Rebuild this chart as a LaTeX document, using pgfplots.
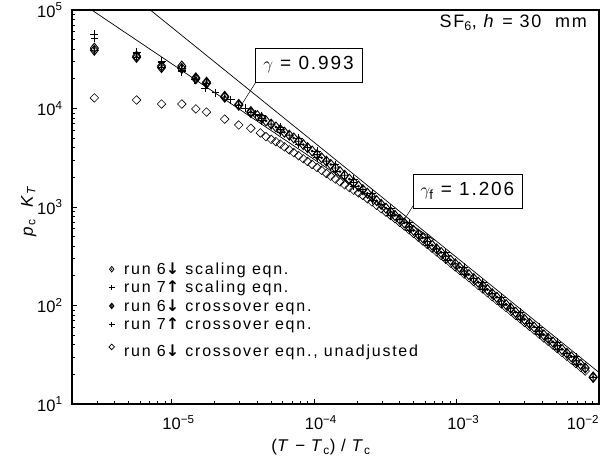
\documentclass[border=0pt]{standalone}
\usepackage{fontspec}
\setmainfont{Liberation Sans}
\newfontfamily\trk{Liberation Sans}[LetterSpace=11]
\newfontfamily\ttl{Liberation Sans}[LetterSpace=10]
\newfontfamily\lbl{Liberation Sans}[LetterSpace=6]
\newfontfamily\arrowfont{DejaVu Sans}
\newcommand\da{{\arrowfont\bfseries ↓}}
\newcommand\ua{{\arrowfont\bfseries ↑}}
\usepackage{pgfplots}
\pgfplotsset{compat=1.18}

\pgfdeclareplotmark{dplus}{%
 \pgfpathmoveto{\pgfqpoint{0pt}{\pgfplotmarksize}}%
 \pgfpathlineto{\pgfqpoint{.8\pgfplotmarksize}{0pt}}%
 \pgfpathlineto{\pgfqpoint{0pt}{-\pgfplotmarksize}}%
 \pgfpathlineto{\pgfqpoint{-.8\pgfplotmarksize}{0pt}}%
 \pgfpathclose
 \pgfpathmoveto{\pgfqpoint{0pt}{\pgfplotmarksize}}%
 \pgfpathlineto{\pgfqpoint{0pt}{-\pgfplotmarksize}}%
 \pgfpathmoveto{\pgfqpoint{-.8\pgfplotmarksize}{0pt}}%
 \pgfpathlineto{\pgfqpoint{.8\pgfplotmarksize}{0pt}}%
 \pgfusepathqstroke}
\pgfdeclareplotmark{ddot}{%
 \pgfpathmoveto{\pgfqpoint{0pt}{\pgfplotmarksize}}%
 \pgfpathlineto{\pgfqpoint{.8\pgfplotmarksize}{0pt}}%
 \pgfpathlineto{\pgfqpoint{0pt}{-\pgfplotmarksize}}%
 \pgfpathlineto{\pgfqpoint{-.8\pgfplotmarksize}{0pt}}%
 \pgfpathclose
 \pgfusepathqstroke
 \pgfpathcircle{\pgfpointorigin}{.3\pgfplotmarksize}%
 \pgfusepathqfill}
\pgfdeclareplotmark{dopen}{%
 \pgfpathmoveto{\pgfqpoint{0pt}{\pgfplotmarksize}}%
 \pgfpathlineto{\pgfqpoint{\pgfplotmarksize}{0pt}}%
 \pgfpathlineto{\pgfqpoint{0pt}{-\pgfplotmarksize}}%
 \pgfpathlineto{\pgfqpoint{-\pgfplotmarksize}{0pt}}%
 \pgfpathclose
 \pgfusepathqstroke}

\pgfplotstableread{
x y
2.87e-6 41000
5.68e-6 34000
8.5e-6 27000
1.18e-5 27000
1.48e-5 20500
1.76e-5 18500
2.36e-5 13300
2.96e-5 11000
3.6e-5 9300
4.0e-5 8470
4.6e-5 7480
5.4e-5 6490
6.2e-5 5740
7.2e-5 5020
8.4e-5 4300
9.7e-5 3700
1.13e-4 3155
1.31e-4 2700
1.52e-4 2290
1.77e-4 1920
2.05e-4 1630
2.37e-4 1380
2.75e-4 1160
3.2e-4 971
3.7e-4 820
4.3e-4 689
5.0e-4 578
5.8e-4 486
6.75e-4 408
7.8e-4 345
9.1e-4 288
1.05e-3 244
1.22e-3 206
1.42e-3 172
1.65e-3 145
1.92e-3 121
2.23e-3 102
2.6e-3 85.3
3.0e-3 72.3
3.5e-3 60.5
4.1e-3 50.3
4.75e-3 42.5
5.5e-3 35.8
6.4e-3 30.1
7.45e-3 25.2
9.1e-3 18.8
}\runsixscal

\pgfplotstableread{
x y
2.87e-6 57000
5.68e-6 37500
8.5e-6 30000
1.18e-5 23500
1.73e-5 16100
2.6e-5 12300
3.3e-5 10000
4.3e-5 8470
5.8e-5 6490
7.8e-5 5020
1.05e-4 3700
1.41e-4 2700
1.9e-4 1920
2.55e-4 1380
3.45e-4 971
4.65e-4 689
6.25e-4 486
8.4e-4 345
1.13e-3 244
1.53e-3 172
2.07e-3 121
2.8e-3 85.3
3.8e-3 60.5
5.1e-3 42.5
6.9e-3 30.1
}\runsevenscal

\pgfplotstableread{
x y
2.87e-6 39000
5.68e-6 33000
8.5e-6 26000
1.18e-5 25500
1.48e-5 20000
1.76e-5 18000
2.36e-5 13000
2.96e-5 10800
3.6e-5 9100
4.3e-5 7940
5.0e-5 6950
5.8e-5 6100
6.7e-5 5360
7.8e-5 4650
9.0e-5 4000
1.05e-4 3400
1.22e-4 2920
1.41e-4 2490
1.64e-4 2100
1.9e-4 1775
2.2e-4 1500
2.55e-4 1265
2.96e-4 1064
3.45e-4 889
4.0e-4 748
4.65e-4 628
5.4e-4 528
6.25e-4 446
7.25e-4 376
8.4e-4 317
9.8e-4 265
1.13e-3 224
1.32e-3 188
1.53e-3 158
1.78e-3 132
2.07e-3 111
2.4e-3 94
2.8e-3 78.3
3.25e-3 65.9
3.8e-3 55.0
4.4e-3 46.4
5.1e-3 39.1
5.95e-3 32.7
6.9e-3 27.5
8.0e-3 23.2
9.1e-3 18.6
}\runsixcross

\pgfplotstableread{
x y
2.87e-6 52000
5.68e-6 36000
8.5e-6 29000
1.18e-5 24500
1.45e-5 19500
2.04e-5 14400
2.96e-5 10700
3.9e-5 8800
4.3e-5 7480
5.8e-5 5740
7.8e-5 4300
1.05e-4 3155
1.41e-4 2290
1.9e-4 1630
2.55e-4 1160
3.45e-4 820
4.65e-4 578
6.25e-4 408
8.4e-4 288
1.13e-3 206
1.53e-3 145
2.07e-3 102
2.8e-3 72.3
3.8e-3 50.3
5.1e-3 35.8
6.9e-3 25.2
}\runsevencross

\pgfplotstableread{
x y
2.87e-6 12800
5.68e-6 12200
8.5e-6 11100
1.18e-5 11100
1.48e-5 9900
1.76e-5 9200
2.36e-5 7800
2.96e-5 6800
3.6e-5 6300
4.2e-5 5650
4.6e-5 5180
5.0e-5 4860
5.4e-5 4600
5.8e-5 4350
6.2e-5 4080
6.7e-5 3800
7.2e-5 3560
7.8e-5 3310
8.4e-5 3090
9.0e-5 2900
9.7e-5 2700
1.05e-4 2520
1.13e-4 2355
1.22e-4 2190
1.31e-4 2056
1.41e-4 1923
1.52e-4 1800
1.64e-4 1680
1.77e-4 1574
1.9e-4 1483
2.05e-4 1393
2.2e-4 1311
2.37e-4 1213
2.55e-4 1125
2.75e-4 1040
2.96e-4 962
3.2e-4 887
3.45e-4 820
3.7e-4 762
4.0e-4 698
4.3e-4 643
4.65e-4 586
5.0e-4 539
5.4e-4 493
5.8e-4 453
6.25e-4 416
6.75e-4 381
7.25e-4 351
7.8e-4 322
8.4e-4 296
9.1e-4 269
9.8e-4 247
1.05e-3 228
1.13e-3 209
1.22e-3 192
1.32e-3 175
1.42e-3 160
1.53e-3 147
1.65e-3 135
1.78e-3 123
1.92e-3 113
2.07e-3 104
2.23e-3 95.2
2.4e-3 87.7
2.6e-3 79.6
2.8e-3 73.1
3.0e-3 67.5
3.25e-3 61.5
3.5e-3 56.4
3.8e-3 51.3
4.1e-3 46.9
4.4e-3 43.3
4.75e-3 39.7
5.1e-3 36.5
5.5e-3 33.4
5.95e-3 30.5
6.4e-3 28.1
6.9e-3 25.7
7.45e-3 23.5
8.0e-3 21.6
}\unadj

\begin{document}
\begin{tikzpicture}
\path[use as bounding box] (0,0) rectangle (602pt,462pt);
\begin{axis}[
  at={(72pt,58pt)}, anchor=south west,
  scale only axis, width=527pt, height=394pt,
  xmode=log, ymode=log,
  xmin=2e-6, xmax=1e-2, ymin=10, ymax=1e5,
  axis line style={line width=1.1pt},
  tick align=inside, tick pos=left,
  major tick length=5pt, minor tick length=3.5pt,
  every tick/.append style={line width=0.8pt, black},
  xtick={1e-5,1e-4,1e-3,1e-2},
  xticklabels={\makebox[0pt]{10\rlap{\textsuperscript{−5}}},
               \makebox[0pt]{10\rlap{\textsuperscript{−4}}},
               \makebox[0pt]{10\rlap{\textsuperscript{−3}}},
               \makebox[0pt][r]{10\textsuperscript{−2}}},
  minor xtick={3e-6,4e-6,5e-6,6e-6,7e-6,8e-6,9e-6,
               2e-5,3e-5,4e-5,5e-5,6e-5,7e-5,8e-5,9e-5,
               2e-4,3e-4,4e-4,5e-4,6e-4,7e-4,8e-4,9e-4,
               2e-3,3e-3,4e-3,5e-3,6e-3,7e-3,8e-3,9e-3},
  ytick={10,100,1000,10000,100000},
  yticklabels={10\textsuperscript{1},10\textsuperscript{2},10\textsuperscript{3},10\textsuperscript{4},10\textsuperscript{5}},
  minor ytick={20,30,40,50,60,70,80,90,
               200,300,400,500,600,700,800,900,
               2000,3000,4000,5000,6000,7000,8000,9000,
               20000,30000,40000,50000,60000,70000,80000,90000},
  tick label style={font=\fontsize{16.5}{16.5}\selectfont},
  xticklabel style={yshift=-8pt},
  yticklabel style={xshift=-6pt},
  xlabel={(\textit{T} − \textit{T}\textsubscript{c}) / \textit{T}\textsubscript{c}},
  ylabel={\textit{p}\textsubscript{c}\ \ \textit{K}\textsubscript{\textit{T}}},
  label style={font=\lbl\fontsize{17}{17}\selectfont},
  xlabel style={at={(axis description cs:0.4725,-0.11)}, anchor=center},
  ylabel style={at={(axis description cs:-0.082,0.49)}, anchor=center},
  legend style={at={(0.064,0.366)}, anchor=north west, draw=none, fill=none,
    font=\trk\fontsize{16}{16}\selectfont, row sep=4pt, column sep=9pt,
    nodes={inner sep=0.6pt}},
  legend cell align=left,
  legend image post style={mark size=2.8pt, line width=0.8pt},
]
\addplot[no marks, line width=0.7pt, forget plot] coordinates {(2.75e-6,1e5) (7e-4,459)};
\addplot[no marks, line width=0.7pt, forget plot] coordinates {(7.09e-6,1e5) (1e-2,20.9)};

\addplot[only marks, mark=ddot, mark size=5pt, line width=0.9pt] table {\runsixscal};
\addlegendentry{run 6\da\ scaling eqn.}
\addplot[only marks, mark=+, mark size=4pt, line width=0.9pt] table {\runsevenscal};
\addlegendentry{run 7\ua\ scaling eqn.}
\addplot[only marks, mark=dplus, mark size=5pt, line width=0.9pt] table {\runsixcross};
\addlegendentry{run 6\da\ crossover eqn.}
\addplot[only marks, mark=+, mark size=3.8pt, line width=0.9pt] table {\runsevencross};
\addlegendentry{run 7\ua\ crossover eqn.}
\addplot[only marks, mark=dopen, mark size=4.3pt, line width=0.6pt] table {\unadj};
\addlegendentry{\rule{0pt}{20pt}run 6\da\ crossover eqn., unadjusted}
\end{axis}
% title
\node[anchor=base east, inner sep=0pt, font=\ttl\fontsize{18}{18}\selectfont] at (587pt,434pt)
  {SF\textsubscript{6}, \textit{h} = 30 \ mm};
% gamma boxes
\draw[line width=0.5pt] (255pt,380pt) rectangle (362pt,414pt);
\node[font=\ttl\fontsize{19}{19}\selectfont, inner sep=0pt] at (308.5pt,397pt) {$\gamma$ = 0.993};
\draw[line width=0.5pt] (256pt,380pt) -- (242pt,358pt);
\draw[line width=0.5pt] (413pt,254pt) rectangle (522pt,288pt);
\node[font=\ttl\fontsize{19}{19}\selectfont, inner sep=0pt] at (467.5pt,271pt) {$\gamma_{\mathrm{f}}$ = 1.206};
\draw[line width=0.5pt] (413pt,256pt) -- (404pt,242pt);
\end{tikzpicture}
\end{document}
